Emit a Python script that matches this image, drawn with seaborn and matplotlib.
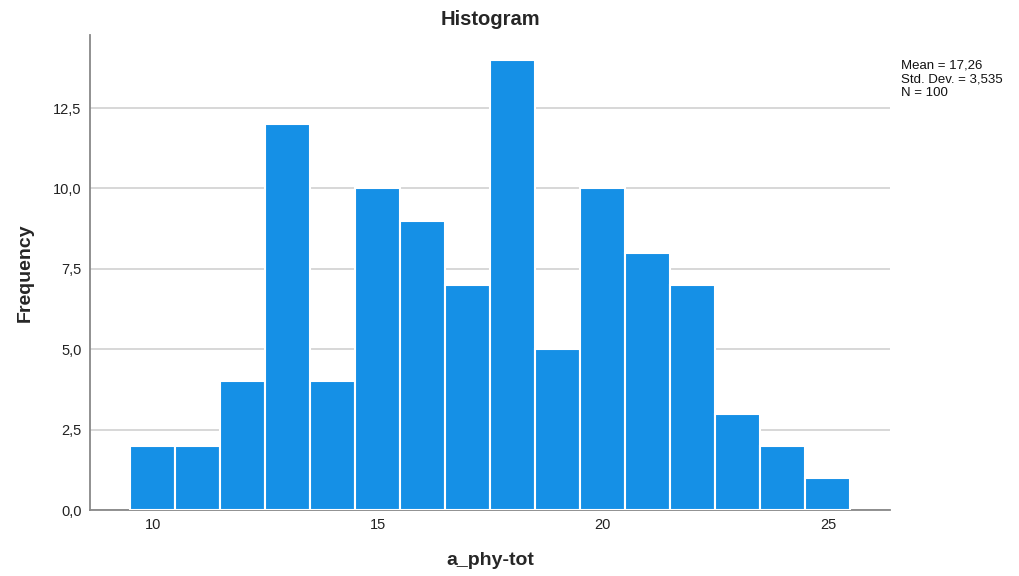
import matplotlib
matplotlib.use("Agg")
import matplotlib.pyplot as plt
import seaborn as sns
import pandas as pd
from matplotlib.ticker import FuncFormatter, FixedLocator

values = [10, 11, 12, 13, 14, 15, 16, 17, 18, 19, 20, 21, 22, 23, 24, 25]
counts = [2, 2, 4, 12, 4, 10, 9, 7, 14, 5, 10, 8, 7, 3, 2, 1]
x_ticks = [10, 15, 20, 25]
y_ticks = [0, 2.5, 5, 7.5, 10, 12.5]
stats_text = "Mean = 17,26\nStd. Dev. = 3,535\nN = 100"

sns.set_theme(style="white")
plt.rcParams['font.family'] = ['Liberation Sans', 'DejaVu Sans']

df = pd.DataFrame({"a_phy-tot": values, "count": counts})

fig = plt.figure(figsize=(10.2, 5.76), dpi=100)
ax = fig.add_axes([90/1020, 1-510/576, 800/1020, 475/576])

sns.histplot(data=df, x="a_phy-tot", weights="count", discrete=True,
             color="#1590e6", alpha=1.0, edgecolor="white", linewidth=1.5,
             ax=ax, zorder=3)

ax.set_xlim(8.6, 26.38)
ax.set_ylim(0, 14.77)
ax.xaxis.set_major_locator(FixedLocator(x_ticks))
ax.yaxis.set_major_locator(FixedLocator(y_ticks))
ax.yaxis.set_major_formatter(FuncFormatter(lambda v, p: f"{v:.1f}".replace(".", ",")))
ax.tick_params(axis="both", length=0, labelsize=10.5, colors="#222222", pad=6)
ax.grid(axis="y", color="#d4d4d4", linewidth=1.3, zorder=0)
ax.set_axisbelow(True)

for s in ["top", "right"]:
    ax.spines[s].set_visible(False)
for s in ["left", "bottom"]:
    ax.spines[s].set_color("#888888")
    ax.spines[s].set_linewidth(1.3)

ax.set_title("Histogram", fontsize=14.5, fontweight="bold", pad=7)
ax.set_xlabel("a_phy-tot", fontsize=14, fontweight="bold", labelpad=14)
ax.set_ylabel("Frequency", fontsize=14, fontweight="bold", labelpad=14)

fig.text(901/1020, 1-60/576, stats_text, fontsize=9.5, va="top", ha="left",
         linespacing=1.15, color="#111111")

fig.savefig("out.png", dpi=100)
